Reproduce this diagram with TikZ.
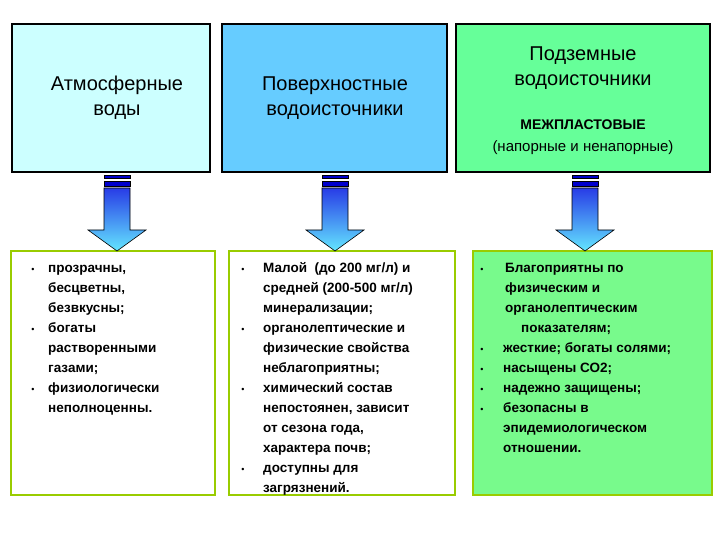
\documentclass[tikz,border=0pt]{standalone}
\usepackage{fontspec}
\setmainfont{Liberation Sans}
\begin{document}
\begin{tikzpicture}[x=1pt,y=-1pt,
  topbox/.style={draw=black,line width=1.6pt},
  botbox/.style={draw={rgb,255:red,153;green,204;blue,0},line width=2pt},
  ttl/.style={font=\fontsize{20}{25}\selectfont,align=center},
  sub/.style={font=\fontsize{15}{18}\selectfont},
  ln/.style={anchor=base west,inner sep=0pt,font=\bfseries\fontsize{13.5}{16}\selectfont},
  bul/.style={anchor=base,inner sep=0pt,font=\fontsize{9}{9}\selectfont}]
\useasboundingbox (0,0) rectangle (720,540);
\definecolor{c1}{RGB}{204,255,255}
\definecolor{c2}{RGB}{102,204,255}
\definecolor{c3}{RGB}{102,255,153}
\definecolor{c4}{RGB}{120,250,140}
\fill[white] (0,0) rectangle (720,540);
% top boxes
\draw[topbox,fill=c1] (12,24) rectangle (210,172);
\draw[topbox,fill=c2] (222,24) rectangle (447,172);
\draw[topbox,fill=c3] (456,24) rectangle (710,172);
\node[ttl] (t1) at (117,98) {Атмосферные\\воды};
\node[ttl] (t2) at (335,98) {Поверхностные\\водоисточники};
\node[ttl] (t3) at (583,68) {Подземные\\водоисточники};
\node[sub,font=\bfseries\fontsize{14}{17}\selectfont] (t3b) at (583,125) {МЕЖПЛАСТОВЫЕ};
\node[sub] (t3c) at (583,148) {(напорные и ненапорные)};
% bottom boxes
\draw[botbox,fill=white] (11,251) rectangle (215,495);
\draw[botbox,fill=white] (229,251) rectangle (455,495);
\draw[botbox,fill=c4] (473,251) rectangle (712,495);
% arrows
\foreach \cx/\nm in {117/a1,335/a2,585/a3}{
  \shade[top color={rgb,255:red,40;green,60;blue,230},bottom color={rgb,255:red,100;green,230;blue,255},draw=black,line width=0.6pt]
   (\cx-13,188) -- (\cx+13,188) -- (\cx+13,230) -- (\cx+29,230) -- (\cx,251) -- (\cx-29,230) -- (\cx-13,230) -- cycle;
  \fill[blue!80!black,draw=black,line width=0.4pt] (\cx-13,175) rectangle (\cx+13,178);
  \fill[blue!80!black,draw=black,line width=0.4pt] (\cx-13,181) rectangle (\cx+13,186);
  \coordinate (\nm) at (\cx,188);
}
% box 1 text
\foreach \t [count=\i] in {{прозрачны,},{бесцветны,},безвкусны;,богаты,растворенными,газами;,физиологически,неполноценны.}{
  \node[ln] (l1-\i) at (48,252+20*\i) {\t};}
\foreach \i in {1,4,7}{\node[bul] (b1-\i) at (33,252+20*\i) {•};}
% box 2 text
\foreach \t [count=\i] in {{Малой\ \ (до 200 мг/л) и},{средней (200-500 мг/л)},минерализации;,органолептические и,физические свойства,неблагоприятны;,химический состав,{непостоянен, зависит},{от сезона года,},характера почв;,доступны для,загрязнений.}{
  \node[ln] (l2-\i) at (263,252+20*\i) {\t};}
\foreach \i in {1,4,7,11}{\node[bul] (b2-\i) at (243,252+20*\i) {•};}
% box 3 text
\foreach \t/\x [count=\i] in {Благоприятны по/505,физическим и/505,органолептическим/505,показателям;/521,{жесткие; богаты солями;}/503,насыщены СО2;/503,надежно защищены;/503,безопасны в/503,эпидемиологическом/503,отношении./503}{
  \node[ln] (l3-\i) at (\x,252+20*\i) {\t};}
\foreach \i in {1,5,6,7,8}{\node[bul] (b3-\i) at (482,252+20*\i) {•};}
\end{tikzpicture}
\end{document}
